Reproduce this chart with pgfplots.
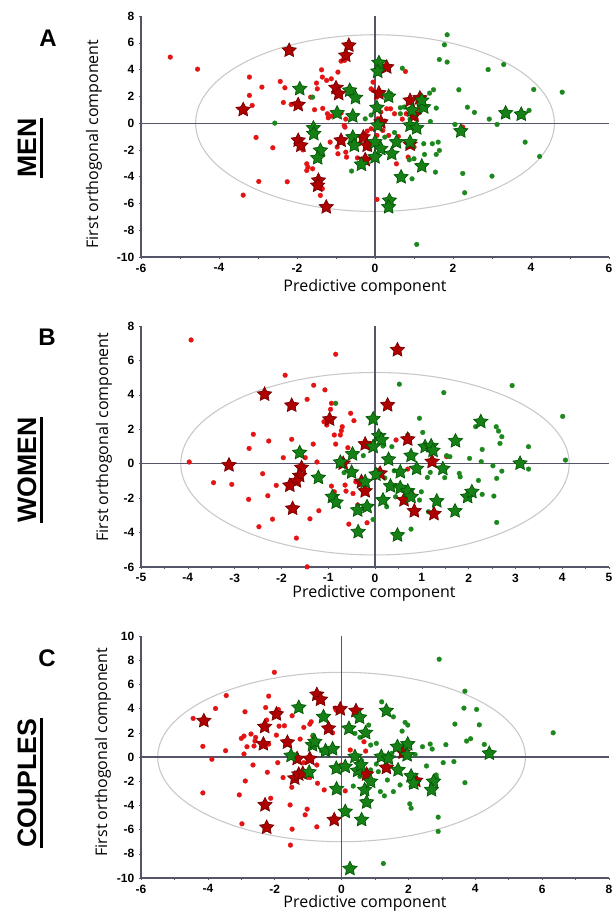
\documentclass[border=0pt]{standalone}
\usepackage{fontspec}
\setmainfont{Open Sans}
\newfontfamily\tickfont{Liberation Sans}
\newfontfamily\headfont{Liberation Sans}
\usepackage{pgfplots}
\pgfplotsset{compat=1.18}

\definecolor{axcol}{RGB}{85,85,105}
\definecolor{ellcol}{RGB}{200,200,200}
\definecolor{reddot}{RGB}{228,20,20}
\definecolor{redstar}{RGB}{175,0,0}
\definecolor{redstaredge}{RGB}{115,0,0}
\definecolor{grnstar}{RGB}{22,128,22}
\definecolor{grnstaredge}{RGB}{0,85,0}
\definecolor{grndot}{RGB}{28,135,28}

\pgfdeclareplotmark{fstar}{%
  \pgfpathmoveto{\pgfpointpolar{90}{\pgfplotmarksize}}%
  \pgfpathlineto{\pgfpointpolar{126}{0.5\pgfplotmarksize}}%
  \pgfpathlineto{\pgfpointpolar{162}{\pgfplotmarksize}}%
  \pgfpathlineto{\pgfpointpolar{198}{0.5\pgfplotmarksize}}%
  \pgfpathlineto{\pgfpointpolar{234}{\pgfplotmarksize}}%
  \pgfpathlineto{\pgfpointpolar{270}{0.5\pgfplotmarksize}}%
  \pgfpathlineto{\pgfpointpolar{306}{\pgfplotmarksize}}%
  \pgfpathlineto{\pgfpointpolar{342}{0.5\pgfplotmarksize}}%
  \pgfpathlineto{\pgfpointpolar{18}{\pgfplotmarksize}}%
  \pgfpathlineto{\pgfpointpolar{54}{0.5\pgfplotmarksize}}%
  \pgfpathclose
  \pgfusepathqfillstroke}

\pgfplotsset{
  panel/.style={scale only axis, width=351pt,
    axis x line=bottom, axis y line=left,
    axis line style={-, axcol, line width=0.8pt},
    tick style={axcol, line width=0.4pt}, tick align=outside,
    major tick length=1.5pt, minor tick length=1.5pt,
    ticklabel style={font=\tickfont\bfseries\fontsize{9}{10}\selectfont, text=black},
    /pgf/number format/assume math mode=true,
    clip=false},
  rdot/.style={only marks, mark=*, mark size=1.8pt, mark options={draw=reddot, fill=reddot, line width=0.2pt}},
  gdot/.style={only marks, mark=*, mark size=1.8pt, mark options={draw=grndot, fill=grndot, line width=0.2pt}},
  rstar/.style={only marks, mark=fstar, mark size=5.6pt, mark options={draw=redstaredge, fill=redstar, line width=0.5pt}},
  gstar/.style={only marks, mark=fstar, mark size=5.6pt, mark options={draw=grnstaredge, fill=grnstar, line width=0.5pt}},
  cross/.style={axcol, line width=0.8pt},
}

\begin{document}
\begin{tikzpicture}
\path[use as bounding box, fill=white] (0,0) rectangle (461.25pt,-687.75pt);

% ---------------- Panel A : MEN ----------------
\begin{axis}[panel, at={(105.75pt,-192.75pt)}, anchor=south west, height=180.75pt,
  xmin=-6, xmax=6, ymin=-10, ymax=8, xtick={-6,-4,...,6}, ytick={-10,-8,...,8},
  minor x tick num=1]
\draw[ellcol, line width=0.8pt] (axis cs:0,0) ellipse [x radius=4.6, y radius=6.6];
\addplot[cross] coordinates {(0,-10) (0,8)};
\addplot[cross] coordinates {(-6,0) (6,0)};
\addplot[rdot] coordinates {
(-5.25,4.93) (-4.55,4.03) (-3.22,3.44) (-3.22,2.07) (-3.15,1.32) (-2.9,2.69)
(-2.43,3.11) (-2.31,2.64) (-2.35,1.54) (-2.15,1.39) (-3.05,-1.07) (-2.62,-1.84)
(-2.98,-4.36) (-2.25,-4.38) (-3.38,-5.38) (-1.65,1.94) (-1.5,2.99) (-1.48,2.56)
(-1.35,3.44) (-1.37,3.98) (-1.24,3.19) (-1.12,3.31) (-0.95,3.81) (-1.34,1.10)
(-1.22,0.70) (-1.2,0.4) (-1.13,0.52) (-0.87,0.75) (-0.75,0.3) (-0.79,-0.17)
(-0.77,-0.3) (-1.15,-1.42) (-0.97,-1.79) (-0.95,-2.29) (-0.75,-2.17) (-0.73,-2.54)
(-1.75,-3.04) (-1.72,-3.29) (-1.75,-3.54) (-1.6,-3.41) (-1.35,-4.9) (-1.4,-5.4)
(-0.78,4.68) (-0.87,4.63) (-0.05,3.06) (-0.1,2.56) (-0.05,2.44) (0.05,1.94)
(0.15,0.82) (0.3,1.07) (0.4,1.07) (0.5,0.70) (0.25,0.15) (0.07,0.32)
(-0.1,-0.42) (-0.2,-0.6) (-0.25,-0.85) (-0.35,-1.17) (-0.4,-1.54) (-0.15,-1.92)
(0.05,-0.92) (0.35,-0.92) (0.2,-0.55) (0.55,-3.04) (0.05,-5.7) (0.78,3.86)
(0.8,0.7) (0.9,1.07) (1.1,1.0) (2.25,-0.3) (1.0,-1.79) (0.85,-2.54)
(-2.05,1.45) (-1.85,-2.0) (-1.55,1.0) (-0.6,-1.2) (-0.45,-2.6) (-0.3,-2.9)
(0.6,-1.0) (0.7,0.3) (1.05,0.3)};
\addplot[gdot] coordinates {
(1.85,6.6) (1.78,5.85) (1.65,4.75) (1.85,4.56) (0.7,4.1) (2.9,4.0) (3.3,4.38)
(1.5,2.49) (1.4,2.24) (2.15,2.49) (4.07,2.51) (4.8,2.31) (2.37,1.19) (2.55,0.8)
(3.95,0.95) (1.57,1.12) (0.65,1.15) (0.65,0.7) (1.42,0.12) (2.05,-0.1) (2.93,0.3)
(3.13,-0.1) (3.85,-1.42) (4.22,-2.49) (1.47,-1.54) (1.62,-1.42) (1.65,-2.04)
(1.57,-2.34) (1.27,-2.34) (1.0,-2.66) (0.88,-2.74) (1.55,-3.66) (0.95,-4.16)
(2.25,-3.76) (2.3,-5.2) (3.0,-3.96) (1.07,-9.06) (-2.57,0) (-1.6,1.94)
(-0.6,-3.58) (-0.25,0.32) (0.25,-1.05) (1.25,-1.54) (0.75,1.2) (0.9,0.3)
(0.5,-0.7) (-0.1,0.6) (0.4,2.2) (1.15,0.8)};
\addplot[rstar] coordinates {
(-2.2,5.43) (-0.67,5.8) (-0.75,5.05) (0.3,4.18) (-3.38,1.0) (-1.97,1.37)
(-1.0,2.64) (-0.93,2.19) (0.1,2.24) (0.9,1.69) (1.15,1.87) (1.0,0.57)
(-1.97,-1.29) (-1.9,-1.67) (-0.87,-1.29) (-0.3,-1.05) (-0.2,-1.67) (-0.25,-2.74)
(0.15,0.07) (-1.45,-4.28) (-1.47,-4.66) (-1.25,-6.27) (0.9,-1.59)};
\addplot[gstar] coordinates {
(0.1,4.51) (0.07,3.86) (-1.93,2.56) (-0.65,2.44) (-0.5,1.89) (0.35,1.99)
(-0.97,0.75) (-0.57,0.52) (0.05,1.15) (0.95,0.95) (1.25,1.19) (1.2,1.69)
(3.35,0.75) (3.75,0.65) (-1.58,-0.37) (-1.57,-0.8) (-1.4,-2.04) (-1.47,-2.61)
(-0.57,-1.05) (-0.53,-1.67) (0.07,-0.17) (0,-1.42) (0.15,-1.92) (0,-2.54)
(0.43,-2.29) (0.55,-1.42) (0.9,-0.17) (1.07,-0.37) (0.9,-1.42) (1.2,-3.21)
(0.67,-4.03) (-0.35,-3.09) (0.37,-5.78) (0.35,-6.27) (2.2,-0.6)};
\end{axis}

% ---------------- Panel B : WOMEN ----------------
\begin{axis}[panel, at={(105.75pt,-425.25pt)}, anchor=south west, height=180.75pt,
  xmin=-5, xmax=5, ymin=-6, ymax=8, xtick={-5,-4,...,5}, ytick={-6,-4,...,8},
  minor x tick num=1]
\draw[ellcol, line width=0.8pt] (axis cs:0,0) ellipse [x radius=4.15, y radius=5.3];
\addplot[cross] coordinates {(0,-6) (0,8)};
\addplot[cross] coordinates {(-5,0) (5,0)};
\addplot[rdot] coordinates {
(-3.93,7.19) (-0.84,6.36) (-1.92,5.14) (-1.31,4.56) (-1.07,4.29) (-1.45,3.74)
(-0.93,3.51) (-0.95,3.16) (-0.52,2.93) (-0.45,2.5) (-0.7,2.15) (-0.72,1.92)
(-0.87,1.67) (-0.74,1.67) (-1.09,2.44) (-1.03,2.25) (-2.6,1.71) (-2.27,1.32)
(-2.69,0.89) (-1.78,1.42) (-1.32,1.14) (-0.84,1.14) (-0.58,0.93) (-0.17,0.99)
(0.45,1.38) (-3.97,0.1) (-1.96,0.35) (-1.24,0.1) (-2.4,-0.58) (-3.45,-1.1)
(-3.06,-1.2) (-2.11,-1.26) (-2.7,-2.07) (-2.29,-1.86) (-2.19,-3.22) (-2.48,-3.66)
(-1.68,-4.32) (-1.45,-5.99) (-1.39,-3.2) (-1.2,-2.73) (-0.93,-1.3) (-0.87,-1.63)
(-0.64,-1.24) (-0.41,-1.05) (-0.62,-1.59) (-0.47,-1.73) (-0.56,-3.51) (-0.17,-3.43)
(-0.37,-2.4) (0.7,-0.31) (1.53,0.41) (0.79,-1.73) (0.08,-0.37) (-1.49,0.35)
(-1.53,-0.17)};
\addplot[gdot] coordinates {
(0.52,4.62) (1.47,4.13) (2.93,4.54) (4.01,2.75) (-0.84,3.51) (0.95,2.64)
(1.02,1.82) (0.7,1.67) (0.17,1.03) (0.36,0.99) (2.15,2.15) (2.59,2.15)
(2.64,1.9) (2.71,1.57) (2.67,1.18) (2.29,0.83) (3.28,0.99) (4.07,0.21)
(3.28,-0.31) (2.71,-0.43) (2.6,-0.85) (2.52,-0.12) (2.02,0.31) (2.27,0.12)
(1.53,0.47) (1.6,0.41) (1.8,-0.56) (1.82,-0.76) (1.18,-0.5) (1.12,-0.8)
(1.49,-0.81) (0.99,-1.63) (0.95,-2.11) (1.14,-2.79) (2.29,-1.78) (2.54,-1.88)
(2.21,-0.97) (2.6,-3.41) (0.77,-3.8) (-0.04,-3.24) (0.25,-2.5) (0.44,-1.92)
(-0.25,0.47) (-0.21,-1.69) (-0.66,-0.52) (0.41,-0.41) (0.21,-0.83)};
\addplot[rstar] coordinates {
(0.48,6.61) (-2.36,4.03) (-1.78,3.39) (0.27,3.41) (-0.97,2.58) (-0.21,1.14)
(0.7,1.42) (-3.12,-0.08) (-1.57,-0.23) (-1.61,-0.7) (-1.68,-1.01) (-1.82,-1.26)
(-1.76,-2.6) (-0.68,0.02) (-0.29,-1.05) (-0.21,-1.59) (0.11,-0.56) (0.62,-2.11)
(0.84,-2.75) (1.26,-2.91) (1.22,0.12)};
\addplot[gstar] coordinates {
(-0.04,2.6) (0.08,1.61) (0.14,1.38) (-0.04,0.99) (-1.61,0.64) (-0.48,0.56)
(-0.74,0.08) (-0.5,-0.5) (-1.21,-0.81) (0.29,0.25) (0.77,0.47) (0.89,-0.29)
(0.54,-0.48) (0.02,-0.62) (-0.21,-1.05) (1.07,0.99) (1.2,1.03) (1.24,0.76)
(1.72,1.32) (1.45,-0.29) (2.26,2.44) (3.1,0.02) (0.33,-1.3) (0.54,-1.4)
(0.7,-1.59) (0.77,-1.92) (0.17,-2.11) (-0.91,-1.92) (-0.83,-2.25) (-0.37,-2.7)
(-0.17,-2.5) (1.32,-2.17) (1.71,-2.75) (1.98,-1.92) (2.07,-1.63) (-0.36,-3.96)
(0.48,-4.15)};
\end{axis}

% ---------------- Panel C : COUPLES ----------------
\begin{axis}[panel, at={(105.75pt,-658.5pt)}, anchor=south west, height=181.5pt,
  xmin=-6, xmax=8, ymin=-10, ymax=10, xtick={-6,-4,...,8}, ytick={-10,-8,...,10},
  minor x tick num=1]
\draw[ellcol, line width=0.8pt] (axis cs:0,0) ellipse [x radius=5.5, y radius=7.0];
\addplot[cross] coordinates {(0,-10) (0,10)};
\addplot[cross] coordinates {(-6,0) (8,0)};
\addplot[rdot] coordinates {
(-2.01,7.0) (-2.18,5.03) (-3.45,5.08) (-3.77,4.01) (-4.44,3.19) (-2.89,3.74)
(-2.27,4.09) (-1.89,3.93) (-1.85,3.65) (-1.48,3.41) (-2.24,3.05) (-1.87,2.55)
(-1.71,2.58) (-1.95,1.81) (-1.13,2.45) (-0.95,2.72) (-0.91,2.91) (-0.36,2.42)
(-0.27,2.0) (-0.16,3.87) (-2.71,1.9) (-3.0,1.54) (-2.92,1.73) (-2.57,1.62)
(-2.83,0.85) (-2.62,0.91) (-2.59,1.32) (-3.47,0.52) (-4.15,0.88) (-3.88,-0.19)
(-2.92,0.25) (-2.18,1.07) (-1.91,-0.47) (-2.65,-0.66) (-2.22,-1.26) (-2.88,-1.98)
(-3.06,-3.13) (-4.15,-2.97) (-2.12,-3.41) (-1.75,-1.7) (-1.49,-2.5) (-0.95,-1.7)
(-0.72,-2.17) (-0.52,-2.72) (-1.54,-3.96) (-1.03,-4.31) (-1.09,-4.78) (-1.48,-5.96)
(-0.74,-5.77) (-1.53,-7.28) (-2.98,-5.52) (-0.01,-0.66) (0.11,-2.8) (0.26,0.58)
(0.72,0.49) (-0.74,-0.66) (-1.13,-0.47) (-1.24,1.48) (-0.86,1.73) (-0.19,4.04)
(0.4,3.87) (0.67,1.26) (0.75,-1.48)};
\addplot[gdot] coordinates {
(2.92,8.08) (3.69,5.44) (3.66,4.04) (4.04,3.93) (1.2,4.56) (1.55,3.32)
(3.39,2.72) (4.12,2.66) (6.33,2.0) (1.9,2.86) (1.98,2.64) (1.81,2.14)
(0.81,2.64) (1.04,1.13) (0.87,0.99) (0.55,1.62) (0.4,1.95) (3.74,1.32)
(3.86,1.51) (4.27,1.04) (3.12,1.02) (2.65,1.07) (2.71,0.66) (2.42,0.85)
(3.04,-0.47) (3.36,-0.38) (2.54,-0.74) (2.83,-1.48) (2.85,-1.76) (3.69,-2.12)
(2.04,-3.87) (2.08,-4.23) (2.89,-4.97) (2.89,-6.15) (2.08,-2.45) (1.75,-2.31)
(1.55,-2.86) (1.16,-2.86) (1.28,-3.21) (1.37,-1.9) (1.1,-1.21) (0.87,-1.07)
(1.04,-0.58) (1.25,-8.8) (-0.85,1.8) (-0.6,0.5) (0.6,-0.3) (0.55,-1.6)
(0.35,-2.4) (1.5,0.3) (2.2,0.2)};
\addplot[rstar] coordinates {
(-4.12,2.99) (-2.3,2.5) (-2.34,1.07) (-1.95,3.54) (-1.62,1.21) (-0.74,5.16)
(-0.63,4.75) (-0.39,2.36) (-0.04,3.96) (0.43,3.82) (-1.33,-0.14) (-0.95,-0.14)
(-1.4,-1.76) (-1.28,-1.43) (-1.16,-1.35) (-2.29,-3.96) (-2.24,-5.82) (-0.22,-5.19)
(1.34,-0.88) (0.75,-1.43) (1.84,0.38) (2.22,-1.95)};
\addplot[gstar] coordinates {
(-1.28,4.09) (-0.54,3.32) (0.22,2.36) (0.54,3.27) (1.34,3.82) (0.72,2.0)
(-0.87,0.99) (-0.8,1.26) (-0.48,0.52) (-0.27,0.66) (-1.51,0.11) (-0.97,-1.26)
(-0.16,-0.93) (0.11,-0.8) (0.4,0.03) (0.48,-1.13) (0.58,-0.66) (-0.15,-2.64)
(0.11,-4.51) (0.6,-5.19) (0.75,-3.74) (0.69,-2.72) (0.87,-2.03) (1.19,0.03)
(1.4,-0.11) (1.67,0.85) (1.98,1.07) (1.96,0.16) (1.69,-1.07) (2.08,-1.57)
(2.16,-2.17) (2.75,-2.03) (2.69,-2.72) (4.42,0.3) (0.25,-9.23)};
\end{axis}

% ---------------- labels ----------------
\node[font=\headfont\bfseries\fontsize{18}{21}\selectfont] at (36pt,-28.5pt) {A};
\node[font=\headfont\bfseries\fontsize{18}{21}\selectfont] at (35.25pt,-252.75pt) {B};
\node[font=\headfont\bfseries\fontsize{18}{21}\selectfont] at (35.25pt,-493.5pt) {C};

\node[font=\headfont\bfseries\fontsize{20}{24}\selectfont, rotate=90, inner sep=0pt] (men) at (20.25pt,-111pt) {MEN};
\draw[line width=2pt] ([xshift=4pt]men.base west) -- ([xshift=4pt]men.base east);
\node[font=\headfont\bfseries\fontsize{20}{24}\selectfont, rotate=90, inner sep=0pt] (women) at (20.25pt,-352.5pt) {WOMEN};
\draw[line width=2pt] ([xshift=4pt]women.base west) -- ([xshift=4pt]women.base east);
\node[font=\headfont\bfseries\fontsize{20}{24}\selectfont, rotate=90, inner sep=0pt] (couples) at (20.25pt,-587.25pt) {COUPLES};
\draw[line width=2pt] ([xshift=4pt]couples.base west) -- ([xshift=4pt]couples.base east);

\node[font=\fontsize{12}{14}\selectfont] at (273.75pt,-215.25pt) {Predictive component};
\node[font=\fontsize{12}{14}\selectfont] at (280.5pt,-444.75pt) {Predictive component};
\node[font=\fontsize{12}{14}\selectfont] at (273.75pt,-677.25pt) {Predictive component};

\node[font=\fontsize{12}{14}\selectfont, rotate=90] at (70.5pt,-108pt) {First orthogonal component};
\node[font=\fontsize{12}{14}\selectfont, rotate=90] at (78pt,-327.75pt) {First orthogonal component};
\node[font=\fontsize{12}{14}\selectfont, rotate=90] at (77.25pt,-564pt) {First orthogonal component};
\end{tikzpicture}
\end{document}
